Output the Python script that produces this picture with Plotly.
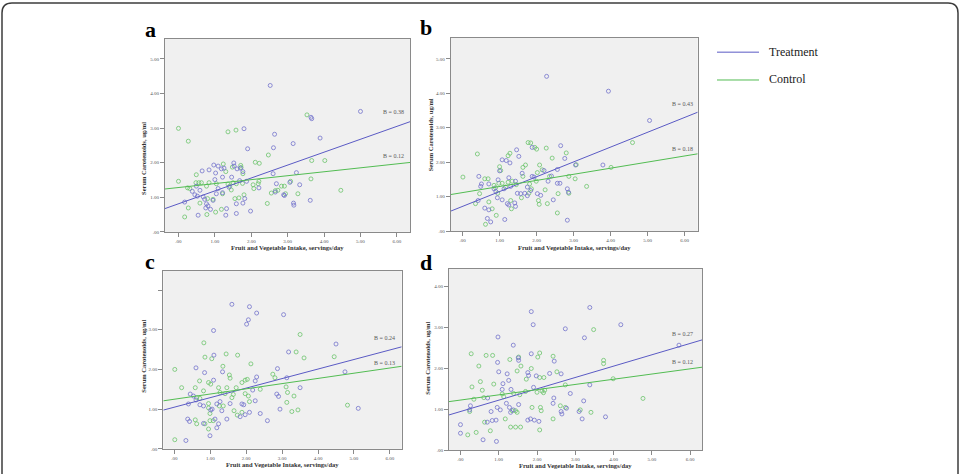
import numpy as np
import plotly.graph_objects as go

# ---------------- data ----------------
a_treat_x = [2.52,5.00,3.64,3.66,1.80,2.64,1.90,2.61,3.15,3.89,0.97,1.09,1.25,1.52,1.53,1.61,1.70,1.77,0.65,0.84,
             1.02,1.18,1.00,1.21,1.46,0.49,0.38,0.45,0.52,0.59,0.68,0.72,0.77,0.81,0.75,0.88,0.95,1.04,1.09,1.21,
             1.32,1.30,1.59,1.59,1.98,0.54,2.21,2.60,2.69,2.89,3.24,3.33,3.16,3.17,3.62,3.06,1.82,1.77,1.39,1.68,
             1.87,0.17,2.66,2.91]
a_treat_y = [4.23,3.48,3.31,3.27,2.98,2.82,2.40,2.43,2.55,2.71,1.93,1.90,1.84,1.99,1.90,1.82,1.84,1.74,1.76,1.79,
             1.70,1.82,1.51,1.58,1.58,1.32,1.17,1.07,1.03,1.20,1.01,0.94,0.81,0.75,0.69,0.65,0.91,1.10,1.25,1.13,
             0.67,0.48,0.81,0.53,0.60,0.48,1.27,1.68,1.39,1.07,1.71,1.36,0.83,0.77,0.91,1.43,0.96,0.83,1.29,1.48,
             1.46,0.86,1.15,1.05]
a_ctrl_x = [0.00,0.27,1.36,1.58,3.53,2.47,2.11,2.22,1.23,1.30,1.48,1.71,0.00,0.49,0.25,0.31,0.48,0.56,0.63,0.77,
            0.84,1.04,1.36,1.41,1.50,1.59,1.77,1.76,2.05,2.19,2.07,2.21,2.55,2.66,2.73,2.83,3.08,2.94,0.27,0.17,
            0.59,0.80,0.78,0.95,1.02,1.18,1.21,1.45,1.55,1.66,1.80,2.44,3.28,3.66,4.02,3.64,4.46,1.72,2.91]
a_ctrl_y = [2.99,2.62,2.89,2.94,3.38,2.22,2.01,1.98,1.96,1.74,1.87,1.92,1.46,1.65,1.27,1.25,1.42,1.42,1.42,1.32,
            1.42,1.39,1.38,1.32,1.42,1.39,1.68,1.40,1.36,1.39,1.25,1.46,1.12,1.19,1.20,1.32,1.46,1.10,0.69,0.43,
            0.83,0.96,0.50,0.94,0.57,0.65,1.10,1.21,0.96,0.98,1.07,0.82,1.10,2.06,2.06,1.53,1.20,1.86,1.32]

b_treat_x = [2.27,3.94,5.05,3.79,1.46,1.52,1.88,2.65,2.76,1.07,1.18,1.28,1.61,1.88,1.93,2.20,2.56,0.44,0.51,0.49,
             0.71,0.96,0.85,1.12,1.25,1.43,1.48,1.57,1.68,1.75,2.02,2.11,2.31,2.56,2.63,2.83,2.86,0.42,0.60,0.71,
             0.67,0.76,1.14,0.94,1.07,1.21,1.25,1.41,1.43,2.45,2.83,1.75,1.84,3.05,1.00,1.30,2.40,0.90]
b_treat_y = [4.49,4.06,3.21,1.92,2.36,2.17,2.43,2.48,2.11,2.07,2.05,1.98,1.68,1.59,1.57,1.76,1.79,1.59,1.37,1.30,
             1.37,1.49,1.23,1.23,1.55,1.45,1.10,1.09,1.10,1.03,1.09,1.04,1.45,1.39,1.39,1.23,1.13,0.89,0.67,0.62,
             0.37,0.27,0.34,0.97,0.91,0.80,0.76,0.82,0.72,0.91,0.32,1.28,1.18,1.92,1.75,1.30,1.60,1.15]
b_ctrl_x = [0.40,1.77,1.84,1.95,2.00,2.26,2.42,2.80,1.23,1.28,1.00,1.03,1.70,2.08,2.15,1.63,0.01,0.60,0.69,0.85,
            0.89,0.98,1.07,1.16,1.23,1.34,1.63,1.81,1.86,1.99,2.35,2.87,3.04,3.07,3.35,0.35,0.46,0.71,0.91,0.62,
            0.80,1.30,1.32,1.59,1.79,2.05,2.07,2.29,2.23,2.58,2.56,4.59,4.01,2.02,2.87,1.45,0.95]
b_ctrl_y = [2.24,2.57,2.56,2.43,2.38,2.41,2.12,2.27,2.19,2.26,1.87,1.76,1.92,1.92,1.78,1.85,1.57,1.52,1.52,1.33,
            1.26,1.39,1.39,1.28,1.42,1.45,1.59,1.37,1.23,1.45,1.59,1.59,1.52,1.93,1.30,0.80,1.09,0.85,0.46,0.20,
            0.65,0.89,0.65,0.97,1.10,0.89,0.78,0.80,1.20,1.09,0.53,2.57,1.85,1.70,1.10,1.35,1.10]

c_treat_x = [1.60,2.09,2.29,3.04,2.06,2.01,1.09,1.10,0.60,0.84,1.34,3.18,3.50,2.87,3.13,2.29,2.25,1.09,0.44,0.53,
             0.39,0.60,0.71,0.81,1.01,1.05,1.18,1.27,1.32,1.55,1.88,1.93,1.97,2.09,1.83,2.25,2.39,2.85,2.90,2.94,
             2.59,0.37,0.42,0.81,1.13,1.23,1.18,0.99,0.32,2.18,1.46,4.50,4.75,5.12]
c_treat_y = [3.64,3.58,3.42,3.38,3.25,3.14,2.98,2.36,2.04,1.92,1.94,2.44,1.54,2.02,1.79,1.81,1.71,1.73,1.38,1.33,
             1.13,1.23,1.11,1.08,0.98,1.00,1.13,1.19,0.96,1.14,1.13,1.11,0.86,0.92,0.81,1.21,0.89,1.38,1.32,1.00,
             0.71,0.75,0.69,0.64,0.75,0.63,0.53,0.33,0.21,1.48,0.75,2.64,1.94,1.02]
c_ctrl_x = [0.82,0.01,0.20,0.85,1.04,1.44,1.76,1.35,2.13,3.50,3.39,3.61,1.53,1.55,0.58,0.70,0.95,1.01,0.81,1.23,
            1.46,1.72,1.88,1.97,2.03,2.39,2.74,2.80,3.11,3.15,3.33,3.13,3.27,3.44,1.27,1.41,1.60,1.64,1.97,2.06,
            2.09,0.62,0.71,0.95,0.95,0.99,1.25,1.36,1.66,1.88,0.58,0.62,0.85,0.95,0.99,1.08,0.01,1.75,4.82,4.45]
c_ctrl_y = [2.67,2.00,1.54,2.31,2.27,2.39,2.36,2.08,2.14,2.88,2.44,2.29,1.86,1.78,1.54,1.71,1.67,1.63,1.46,1.54,
            1.54,1.54,1.67,1.73,1.75,1.50,1.88,1.79,1.56,1.42,1.33,1.17,0.94,0.98,1.42,1.39,1.29,1.37,1.39,1.33,
            1.19,1.29,1.27,1.14,1.03,0.89,1.08,1.08,0.96,0.92,0.73,0.63,0.63,0.50,0.71,0.71,0.23,0.85,1.10,2.32]

d_treat_x = [1.85,3.38,1.90,2.74,3.24,0.98,1.38,1.85,0.97,1.52,1.51,2.45,1.00,1.22,1.76,1.78,1.98,2.33,2.63,1.11,
             1.26,1.09,1.32,1.91,2.87,3.38,0.71,0.26,0.24,0.96,1.04,1.20,1.28,1.31,1.38,1.52,2.44,2.42,2.77,2.63,
             2.65,3.10,3.22,0.80,0.93,0.83,0.70,0.00,0.00,0.59,0.94,1.76,1.83,1.93,2.05,3.18,3.79,5.71,4.19]
d_treat_y = [3.39,3.49,3.07,2.97,2.75,2.77,2.57,2.36,2.15,2.20,2.26,2.18,1.92,1.87,1.90,1.83,1.82,1.88,1.87,1.63,
             1.71,1.49,1.49,1.54,1.39,1.60,1.28,1.09,0.99,1.05,0.99,1.15,1.05,0.93,0.99,1.12,1.28,1.15,1.03,0.95,
             0.89,0.95,1.21,0.95,0.74,0.73,0.69,0.63,0.42,0.26,0.22,0.74,0.77,0.74,0.71,0.77,0.82,2.57,3.07]
d_ctrl_x = [3.48,3.74,3.74,0.28,0.67,0.84,1.29,1.52,2.07,2.02,2.42,0.48,1.58,1.85,1.48,2.52,2.07,2.18,0.30,0.52,
            0.87,1.72,2.74,0.57,0.35,0.61,1.09,1.13,1.39,1.55,1.70,2.00,2.13,2.17,2.20,0.24,0.63,0.78,0.41,0.19,
            1.17,1.35,1.44,1.48,1.31,1.44,1.57,1.87,2.11,2.09,2.07,2.42,2.61,3.13,3.41,2.74,4.77,3.99]
d_ctrl_y = [2.95,2.20,2.12,2.36,2.32,2.32,2.22,2.28,2.38,2.28,2.30,2.06,2.06,2.00,1.94,1.92,1.78,1.78,1.55,1.68,
            1.62,1.74,1.60,1.47,1.25,1.29,1.38,1.31,1.39,1.36,1.44,1.42,1.45,1.41,1.47,0.95,0.69,0.48,0.44,0.38,
            0.77,0.97,0.97,0.93,0.57,0.57,0.57,1.05,0.97,1.05,0.50,0.77,1.09,0.99,0.93,1.05,1.27,1.75]

# regression lines (intercept, slope) per panel a..d
treat_intercept = [0.81, 0.72, 1.05, 0.95]
treat_slope = [0.373, 0.43, 0.24, 0.277]
ctrl_intercept = [1.28, 1.12, 1.25, 1.23]
ctrl_slope = [0.114, 0.177, 0.131, 0.127]
treat_B = ["B = 0.38", "B = 0.43", "B = 0.24", "B = 0.27"]
ctrl_B = ["B = 0.12", "B = 0.18", "B = 0.13", "B = 0.12"]
panel_letters = ["a", "b", "c", "d"]

x_tick_vals = [0, 1, 2, 3, 4, 5, 6]
x_tick_text = [".00", "1.00", "2.00", "3.00", "4.00", "5.00", "6.00"]
y_tick_vals_ab = [0, 1, 2, 3, 4, 5]
y_tick_text_ab = [".00", "1.00", "2.00", "3.00", "4.00", "5.00"]
y_tick_vals_c = [0, 1, 2, 3, 4]
y_tick_text_c = [".00", "1.00", "2.00", "3.00", ""]
y_tick_vals_d = [0, 1, 2, 3, 4]
y_tick_text_d = [".00", "1.00", "2.00", "3.00", "4.00"]

x_title = "Fruit and Vegetable Intake, servings/day"
y_title = "Serum Carotenoids, ug/ml"
legend_labels = ["Treatment", "Control"]

# ---------------- layout geometry ----------------
W, H = 961, 474
boxes = [(165, 410, 39, 233.3), (450.7, 697.7, 38.3, 232.7),
         (163.3, 401.7, 272.3, 451.7), (449, 702.3, 270.3, 453.3)]
x_ranges = [(-0.37, 6.36), (-0.32, 6.35), (-0.31, 6.33), (-0.30, 6.32)]
y_ranges = [(0, 5.58), (0, 5.60), (0, 4.49), (0, 4.44)]
y_ticks = [(y_tick_vals_ab, y_tick_text_ab), (y_tick_vals_ab, y_tick_text_ab),
           (y_tick_vals_c, y_tick_text_c), (y_tick_vals_d, y_tick_text_d)]
B_pos = [(5.92, 3.47, 2.20), (5.94, 3.68, 2.38), (5.84, 2.79, 2.17), (5.81, 2.84, 2.16)]
letter_pos = [(150, 29.6), (426, 27.6), (150, 263.6), (426, 264.6)]
xtitle_pos = [(287.5, 249), (574.5, 249), (282.5, 467), (575.5, 468)]
ytitle_pos = [(144, 160), (430.7, 135.5), (144, 359), (428, 361)]

TREAT_MK = "#7474cc"
CTRL_MK = "#6cc46c"
TREAT_LN = "#5a5ac4"
CTRL_LN = "#52bc52"

data = [(a_treat_x, a_treat_y, a_ctrl_x, a_ctrl_y),
        (b_treat_x, b_treat_y, b_ctrl_x, b_ctrl_y),
        (c_treat_x, c_treat_y, c_ctrl_x, c_ctrl_y),
        (d_treat_x, d_treat_y, d_ctrl_x, d_ctrl_y)]

def px2paper_x(px):
    return px / W

def px2paper_y(py):
    return 1 - py / H

fig = go.Figure()
annotations = []
shapes = []
layout = dict()

for i in range(4):
    sx = "" if i == 0 else str(i + 1)
    xa, ya = "x" + sx, "y" + sx
    tx, ty, cx, cy = data[i]
    fig.add_trace(go.Scatter(x=cx, y=cy, mode="markers", xaxis=xa, yaxis=ya,
                             marker=dict(symbol="circle-open", size=4, color=CTRL_MK, line=dict(width=0.8)),
                             showlegend=False, hoverinfo="skip"))
    fig.add_trace(go.Scatter(x=tx, y=ty, mode="markers", xaxis=xa, yaxis=ya,
                             marker=dict(symbol="circle-open", size=4, color=TREAT_MK, line=dict(width=0.8)),
                             showlegend=False, hoverinfo="skip"))
    xr = np.array(x_ranges[i])
    fig.add_trace(go.Scatter(x=xr, y=treat_intercept[i] + treat_slope[i] * xr, mode="lines",
                             xaxis=xa, yaxis=ya, line=dict(color=TREAT_LN, width=1),
                             showlegend=False, hoverinfo="skip"))
    fig.add_trace(go.Scatter(x=xr, y=ctrl_intercept[i] + ctrl_slope[i] * xr, mode="lines",
                             xaxis=xa, yaxis=ya, line=dict(color=CTRL_LN, width=1),
                             showlegend=False, hoverinfo="skip"))
    l, r, t, b = boxes[i]
    axis_common = dict(showgrid=False, zeroline=False, showline=True, mirror=True,
                       linecolor="#8a8a8a", linewidth=1, ticks="outside", ticklen=4,
                       tickcolor="#8a8a8a", tickwidth=1,
                       tickfont=dict(family="Liberation Serif", size=5, color="#555555"))
    layout["xaxis" + sx] = dict(axis_common, domain=[px2paper_x(l), px2paper_x(r)],
                                range=list(x_ranges[i]), anchor=ya,
                                tickvals=x_tick_vals, ticktext=x_tick_text)
    layout["yaxis" + sx] = dict(axis_common, domain=[px2paper_y(b), px2paper_y(t)],
                                range=list(y_ranges[i]), anchor=xa,
                                tickvals=y_ticks[i][0], ticktext=y_ticks[i][1])
    bx, by_t, by_c = B_pos[i]
    for txt, yy in ((treat_B[i], by_t), (ctrl_B[i], by_c)):
        annotations.append(dict(x=bx, y=yy, xref=xa, yref=ya, text=txt, showarrow=False,
                                xanchor="center", yanchor="middle",
                                font=dict(family="Liberation Serif", size=6, color="#5a5a5a")))
    lx, ly = letter_pos[i]
    annotations.append(dict(x=px2paper_x(lx), y=px2paper_y(ly), xref="paper", yref="paper",
                            text="<b>" + panel_letters[i] + "</b>", showarrow=False,
                            xanchor="center", yanchor="middle",
                            font=dict(family="Liberation Serif", size=22, color="#000000")))
    tx_, ty_ = xtitle_pos[i]
    annotations.append(dict(x=px2paper_x(tx_), y=px2paper_y(ty_), xref="paper", yref="paper",
                            text="<b>" + x_title + "</b>", showarrow=False,
                            xanchor="center", yanchor="middle",
                            font=dict(family="Liberation Serif", size=6.5, color="#333333")))
    yx_, yy_ = ytitle_pos[i]
    annotations.append(dict(x=px2paper_x(yx_), y=px2paper_y(yy_), xref="paper", yref="paper",
                            text="<b>" + y_title + "</b>", showarrow=False, textangle=-90,
                            xanchor="center", yanchor="middle",
                            font=dict(family="Liberation Serif", size=6.5, color="#333333")))

# legend (drawn manually to match the figure)
leg_y = [52.5, 80.5]
leg_col = [TREAT_LN, CTRL_LN]
for lab, yy, col in zip(legend_labels, leg_y, leg_col):
    shapes.append(dict(type="line", xref="paper", yref="paper",
                       x0=px2paper_x(717), x1=px2paper_x(759), y0=px2paper_y(yy), y1=px2paper_y(yy),
                       line=dict(color=col, width=1)))
    annotations.append(dict(x=px2paper_x(766.5), y=px2paper_y(yy - 0.5), xref="paper", yref="paper",
                            text=lab, showarrow=False, xanchor="left", yanchor="middle",
                            font=dict(family="Liberation Serif", size=12, color="#222222")))

# rounded outer frame
L, R, T = px2paper_x(2), px2paper_x(958), px2paper_y(3)
rx, ry = 10 / W, 10 / H
path = (f"M {L},-0.05 L {L},{T - ry} Q {L},{T} {L + rx},{T} "
        f"L {R - rx},{T} Q {R},{T} {R},{T - ry} L {R},-0.05")
shapes.append(dict(type="path", xref="paper", yref="paper", path=path,
                   line=dict(color="#3c3c3c", width=1.5)))

fig.update_layout(width=W, height=H, margin=dict(l=0, r=0, t=0, b=0),
                  paper_bgcolor="#ffffff", plot_bgcolor="#f0f0f0",
                  showlegend=False, annotations=annotations, shapes=shapes, **layout)

fig.write_html("out.html")
